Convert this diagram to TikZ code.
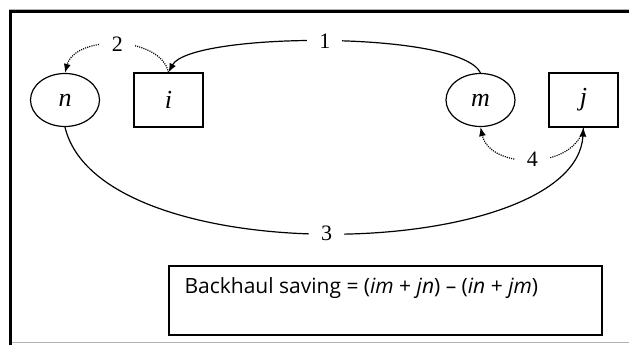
\documentclass[tikz,border=0pt]{standalone}
\usepackage{fontspec}
\setmainfont{Liberation Serif}
\newfontfamily\formfont{Open Sans}
\usetikzlibrary{shapes.geometric,arrows.meta}
\begin{document}
\begin{tikzpicture}[x=1pt,y=-1pt,
  line width=1.2pt,
  stop/.style={ellipse,draw,inner sep=0pt,minimum width=69pt,minimum height=53pt,font=\fontsize{26}{26}\selectfont\itshape},
  depot/.style={rectangle,draw,inner sep=0pt,minimum width=69pt,minimum height=54pt,font=\fontsize{26}{26}\selectfont\itshape},
  legnum/.style={fill=white,inner xsep=12pt,inner ysep=1pt,font=\fontsize{22}{22}\selectfont},
  tip/.style={-{Latex[length=9pt,width=7pt]}},
  dots/.style={dash pattern=on 1.1pt off 1.1pt}]
\useasboundingbox (0,0) rectangle (629,345);
\fill[white] (0,0) rectangle (629,345);
% outer frame
\draw[gray!60,line width=0.8pt] (9,9.2) -- (629,9.2);
\draw[gray!60,line width=1.2pt] (11,342.6) -- (629,342.6);
\draw[line width=3.2pt] (629,11.6) -- (10.6,11.6) -- (10.6,345);
% customers and depots
\node[stop]  (n) at (65,100)    {n};
\node[depot] (i) at (168.5,100) {i};
\node[stop]  (m) at (480.5,100) {m};
\node[depot] (j) at (583.5,100) {j};
% route legs
\draw[tip] (m.north) .. controls (460,30) and (190,32) .. node[legnum,pos=0.5] {1} (i.north);
\draw[tip,dots] (i.north) .. controls (160,35) and (75,35) .. node[legnum,pos=0.5] {2} (n.north);
\draw[tip,dots] (j.south) .. controls (575,170) and (490,170) .. node[legnum,pos=0.5] {4} (m.south);
\draw[tip] (n.south) .. controls (100,275) and (575,262) .. node[legnum,pos=0.49] {3} (j.south);
% saving formula
\node[draw,line width=2pt,minimum width=433pt,minimum height=69pt,anchor=north west] (box) at (168,265) {};
\node[anchor=west,inner sep=0pt,font=\formfont\fontsize{21}{21}\selectfont] (formula) at (184,288)
  {Backhaul saving = (\textit{im} + \textit{jn}) – (\textit{in} + \textit{jm})};
\end{tikzpicture}
\end{document}
